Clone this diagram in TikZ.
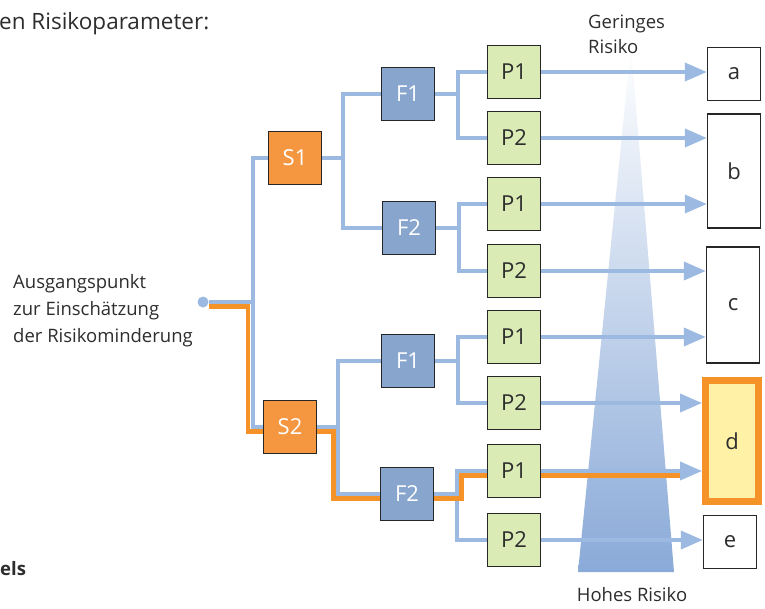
\documentclass[tikz,border=0pt]{standalone}
\usepackage{fontspec}
\setmainfont{Open Sans}
\usepackage{tikz}
\usetikzlibrary{arrows.meta,positioning}

\definecolor{sorange}{RGB}{245,150,65}
\definecolor{fblue}{RGB}{135,165,205}
\definecolor{pgreen}{RGB}{218,235,182}
\definecolor{lblue}{RGB}{155,185,225}
\definecolor{porange}{RGB}{245,146,40}
\definecolor{dyellow}{RGB}{255,241,165}
\definecolor{triblue}{RGB}{138,170,216}
\definecolor{txtgray}{RGB}{45,45,45}

\begin{document}
\begin{tikzpicture}[x=1pt,y=-1pt,
    box/.style={draw=black!85,line width=1.4pt,minimum width=53pt,minimum height=53pt,
      inner sep=0pt,font=\fontsize{22}{26}\selectfont},
    sbox/.style={box,fill=sorange,text=white},
    fbox/.style={box,fill=fblue,text=white},
    pbox/.style={box,fill=pgreen,text=txtgray},
    rbox/.style={box,fill=white,text=txtgray},
    bline/.style={draw=lblue,line width=3.8pt},
    oline/.style={draw=porange,line width=4.5pt},
    riskarrow/.style={bline,-{Triangle[length=22pt,width=18pt]}},
    txt/.style={font=\fontsize{18.5}{27}\selectfont,text=txtgray,inner sep=0pt,align=left}]
  \useasboundingbox (0,0) rectangle (765,608);

  % risk wedge
  \shade[top color=white,bottom color=triblue] (631,45) -- (674,572) -- (578,572) -- cycle;

  \node[txt,anchor=base west] (title) at (-1,29) {\fontsize{22.5}{26}\selectfont en Risikoparameter:};
  \node[txt,anchor=base west] (starttext) at (13,342) {Ausgangspunkt\\zur Einschätzung\\der Risikominderung};
  \node[txt,anchor=base west,font=\fontsize{18.5}{25}\selectfont] (low) at (588,53) {Geringes\\Risiko};
  \node[txt,anchor=base] (high) at (632,601) {Hohes Risiko};
  \node[txt,anchor=base west,font=\fontsize{18.5}{25}\selectfont\bfseries] (els) at (0,575) {els};

  \node[circle,fill=lblue,inner sep=0pt,minimum size=11pt] (start) at (203,302) {};
  \coordinate (j0) at (252.7,302);

  \node[sbox] (S1) at (295,158) {S1};
  \node[sbox] (S2) at (290,427) {S2};
  \node[fbox] (F1a) at (408,94) {F1};
  \node[fbox] (F2a) at (409,228) {F2};
  \node[fbox] (F1b) at (408,361) {F1};
  \node[fbox] (F2b) at (407,494) {F2};
  \foreach \i/\y/\t in {1/72/P1,2/138/P2,3/204/P1,4/271/P2,5/337/P1,6/403/P2,7/471/P1,8/540/P2}
    \node[pbox] (P\i) at (514,\y) {\t};

  \node[rbox] (a) at (734,74) {a};
  \node[rbox,minimum height=114pt] (b) at (734,171) {b};
  \node[rbox,minimum height=116pt] (c) at (733,305) {c};
  \node[box,draw=porange,line width=7pt,fill=dyellow,text=txtgray,minimum height=121pt] (d) at (732,441) {d};
  \node[rbox] (e) at (730,542) {e};

  % junctions
  \coordinate[right=21pt of S1] (jS1);
  \coordinate[right=21pt of S2] (jS2);
  \coordinate[right=23pt of F1a] (jF1a);
  \coordinate[right=23pt of F2a] (jF2a);
  \coordinate[right=23pt of F1b] (jF1b);
  \coordinate[right=23pt of F2b] (jF2b);
  \coordinate (oend) at (680,471);

  % tree
  \draw[bline] (start) -- (j0);
  \draw[bline] (S1.west) -| (j0) |- (S2.west);
  \draw[bline] (S1) -- (jS1);
  \draw[bline] (S2) -- (jS2);
  \draw[bline] (F1a.west) -| (jS1) |- (F2a.west);
  \draw[bline] (F1b.west) -| (jS2) |- (F2b.west);
  \draw[bline] (F1a) -- (jF1a);
  \draw[bline] (F2a) -- (jF2a);
  \draw[bline] (F1b) -- (jF1b);
  \draw[bline] (F2b) -- (jF2b);
  \draw[bline] (P1.west) -| (jF1a) |- (P2.west);
  \draw[bline] (P3.west) -| (jF2a) |- (P4.west);
  \draw[bline] (P5.west) -| (jF1b) |- (P6.west);
  \draw[bline] (P7.west) -| (jF2b) |- (P8.west);

  % highlighted path
  \begin{scope}[transform canvas={shift={(-4.5pt,-4.5pt)}}]
    \draw[oline] ([xshift=4.5pt]start.east) -- (j0) |- ([xshift=4.5pt]S2.west);
    \draw[oline] ([xshift=4.5pt]S2.east) -- (jS2) |- ([xshift=4.5pt]F2b.west);
  \end{scope}
  \begin{scope}[transform canvas={shift={(4.5pt,-4.5pt)}}]
    \draw[oline] ([xshift=-4.5pt]F2b.east) -- (jF2b) |- ([xshift=-4.5pt]P7.west);
    \draw[oline] ([xshift=-4.5pt]P7.east) -- ([xshift=-4.5pt]oend);
  \end{scope}

  % results
  \foreach \i/\r in {1/a,2/b,3/b,4/c,5/c,6/d,7/d,8/e}
    \draw[riskarrow] (P\i) -- (P\i -| \r.west);
\end{tikzpicture}
\end{document}
